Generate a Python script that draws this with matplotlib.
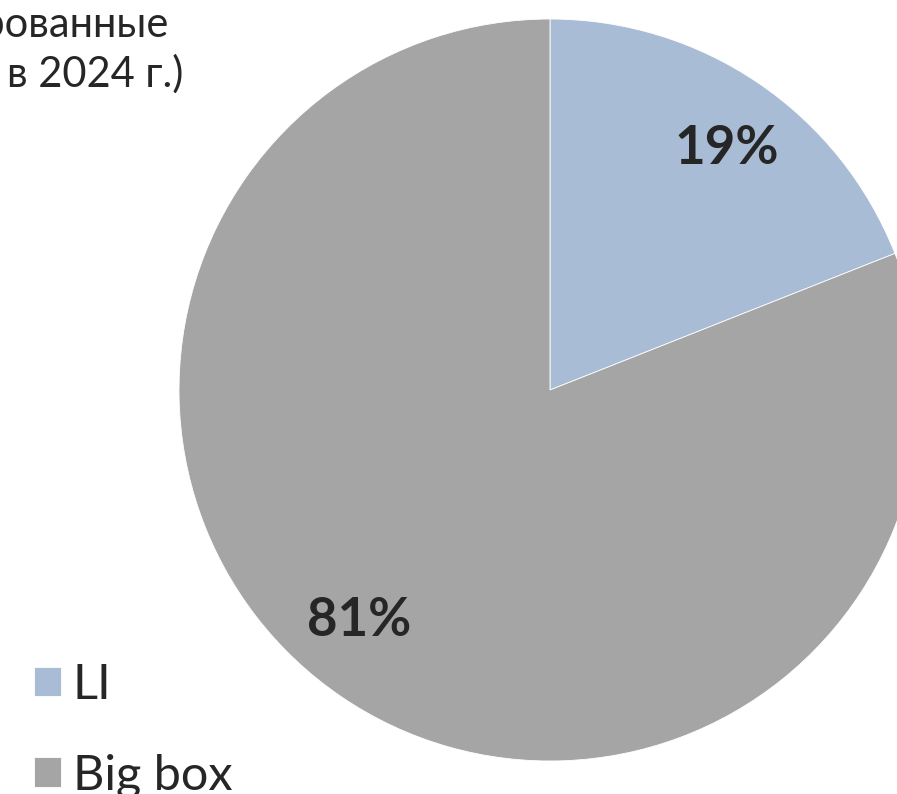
import matplotlib
matplotlib.use("Agg")
import matplotlib.pyplot as plt

W, H = 897, 794
DPI = 100

categories = ["LI", "Big box"]
shares = [19, 81]
colors = ["#A9BCD6", "#A5A5A5"]
title_lines = ["Зарезервированные", "в 2024 г.)"]

plt.rcParams["font.family"] = ["Lato", "DejaVu Sans"]
TEXT = "#262626"

fig = plt.figure(figsize=(W / DPI, H / DPI), dpi=DPI)
fig.patch.set_facecolor("white")


def px(x, y):
    return x / W, 1 - y / H


# Pie: centre (550, 390), radius 371 px
cx, cy, r = 550, 390, 371
ax = fig.add_axes([(cx - r) / W, 1 - (cy + r) / H, 2 * r / W, 2 * r / H])
wedges, _ = ax.pie(
    shares,
    colors=colors,
    startangle=90,
    counterclock=False,
    radius=1,
    wedgeprops=dict(edgecolor="white", linewidth=0.6),
)
ax.set_xlim(-1, 1)
ax.set_ylim(-1, 1)
ax.set_aspect("equal")
ax.axis("off")

# Percentage labels
label_pos = [(727, 149), (359, 621)]
for share, (lx, ly) in zip(shares, label_pos):
    fig.text(*px(lx, ly), f"{share}%", ha="center", va="center",
             fontsize=38, fontweight="bold", color=TEXT)

# Title (right-aligned lines)
fig.text(*px(168, 37), title_lines[0], ha="right", va="baseline",
         fontsize=30, color=TEXT)
fig.text(*px(183, 87), title_lines[1], ha="right", va="baseline",
         fontsize=30, color=TEXT)

# Legend
fig.legend(
    wedges, categories,
    loc="upper left", bbox_to_anchor=px(34, 663),
    frameon=False, fontsize=35, labelcolor=TEXT,
    handlelength=0.55, handleheight=0.55, handletextpad=0.25,
    labelspacing=0.95, borderpad=0, borderaxespad=0,
)

fig.savefig("out.png", dpi=DPI, facecolor="white")
